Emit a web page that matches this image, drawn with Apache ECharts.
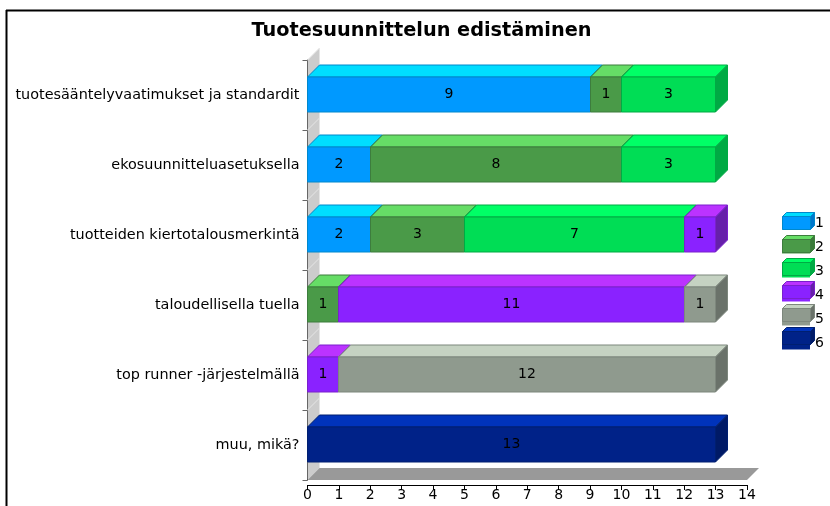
<!DOCTYPE html>
<html><head><meta charset="utf-8">
<style>html,body{margin:0;padding:0;background:#fff}#c{width:830px;height:506px}</style>
<script src="https://cdn.jsdelivr.net/npm/echarts@6/dist/echarts.min.js"></script>
</head><body><div id="c"></div>
<script>
const categories = ['tuotesääntelyvaatimukset ja standardit','ekosuunnitteluasetuksella','tuotteiden kiertotalousmerkintä','taloudellisella tuella','top runner -järjestelmällä','muu, mikä?'];
const seriesNames = ['1','2','3','4','5','6'];
const s1 = [9,2,2,0,0,0];
const s2 = [1,8,3,1,0,0];
const s3 = [3,3,7,0,0,0];
const s4 = [0,0,1,11,1,0];
const s5 = [0,0,0,1,12,0];
const s6 = [0,0,0,0,0,13];
const allSeries = [s1,s2,s3,s4,s5,s6];
const frontColors = ['#0099ff','#4a9a48','#00dd55','#8a22ff','#8f9a8e','#002288'];
const topColors = ['#00ddff','#66dd66','#00ff66','#bb33ff','#c5d2c2','#0033bb'];
const sideColors = ['#0077cc','#3a7a3a','#00aa44','#6620aa','#6a726a','#001a66'];
const edgeColors = ['#0088cc','#3d7d3d','#00aa44','#7a20cc','#7d877d','#001f70'];
const DEPTH = 12;
const FONT = '"DejaVu Sans"';

const chart = echarts.init(document.getElementById('c'));

function box(i, x0, x1, yc, band, text){
  const t = yc - band*0.257, b = yc + band*0.243;
  const edge = {stroke: edgeColors[i], lineWidth: 1};
  const kids = [
    {type:'polygon',shape:{points:[[x0,t],[x1,t],[x1+DEPTH,t-DEPTH],[x0+DEPTH,t-DEPTH]]},style:{fill:topColors[i],...edge}},
    {type:'polygon',shape:{points:[[x1,t],[x1+DEPTH,t-DEPTH],[x1+DEPTH,b-DEPTH],[x1,b]]},style:{fill:sideColors[i],...edge}},
    {type:'rect',shape:{x:x0,y:t,width:x1-x0,height:b-t},style:{fill:frontColors[i],...edge}},
    {type:'text',style:{text:text,x:(x0+x1)/2,y:(t+b)/2,align:'center',verticalAlign:'middle',fill:'#000',font:'14px '+FONT}}
  ];
  return {type:'group',children:kids};
}

const series = allSeries.map((vals,i)=>({
  name: seriesNames[i],
  type:'custom',
  coordinateSystem:'cartesian2d',
  color: frontColors[i],
  itemStyle:{color:frontColors[i]},
  z:5,
  encode:{x:[1,2],y:0},
  data: vals.map((v,k)=>{
    let start=0; for(let j=0;j<i;j++) start+=allSeries[j][k];
    return [k,start,start+v,v];
  }).filter(d=>d[3]>0),
  renderItem:(params,api)=>{
    const k=api.value(0);
    const p0=api.coord([api.value(1),k]);
    const p1=api.coord([api.value(2),k]);
    const band=api.size([0,1])[1];
    return box(i,Math.floor(p0[0])+0.5,Math.floor(p1[0])+0.5,p0[1],band,String(api.value(3)));
  }
}));

// back wall and floor, anchored to the axes
series.push({
  type:'custom',silent:true,z:1,coordinateSystem:'cartesian2d',
  data:[[0]],
  renderItem:(params,api)=>{
    const cs=params.coordSys;
    const l=cs.x,r=cs.x+cs.width,t=cs.y,b=cs.y+cs.height;
    const kids=[
      {type:'polygon',shape:{points:[[l,t],[l+DEPTH,t-DEPTH],[l+DEPTH,b-DEPTH],[l,b]]},style:{fill:'#cccccc'}},
      {type:'polygon',shape:{points:[[l,b],[l+DEPTH,b-DEPTH],[r+DEPTH,b-DEPTH],[r,b]]},style:{fill:'#999999'}}
    ];
    const step=cs.height/categories.length;
    for(let n=0;n<categories.length;n++){
      const y=t+step*n;
      kids.push({type:'line',shape:{x1:l,y1:y,x2:l+DEPTH,y2:y-DEPTH},style:{stroke:'#e6e6e6',lineWidth:1}});
    }
    return {type:'group',children:kids};
  }
});

const legendStep=23;
const legendGraphics=[];
seriesNames.forEach((n,i)=>{
  const y=216.5+legendStep*i;
  legendGraphics.push(
    {type:'polygon',z:200,shape:{points:[[782.5,y],[786.5,y-4],[814.5,y-4],[810.5,y]]},style:{fill:topColors[i],stroke:edgeColors[i]}},
    {type:'polygon',z:200,shape:{points:[[810.5,y],[814.5,y-4],[814.5,y+9],[810.5,y+13]]},style:{fill:sideColors[i],stroke:edgeColors[i]}},
    {type:'rect',z:200,shape:{x:782.5,y:y,width:28,height:13},style:{fill:frontColors[i],stroke:edgeColors[i]}}
  );
});

chart.setOption({
  animation:false,
  backgroundColor:'#fff',
  title:{text:'Tuotesuunnittelun edistäminen',left:416.5,top:16,textAlign:'center',
    textStyle:{fontFamily:FONT,fontWeight:'bold',fontSize:19.3,color:'#000'}},
  legend:{
    data:seriesNames,left:782,top:216,padding:0,orient:'vertical',itemWidth:28,itemHeight:13,itemGap:10,
    icon:'rect',selectedMode:false,
    textStyle:{fontFamily:FONT,fontSize:14,color:'#000',padding:0},
    formatter:n=>n
  },
  grid:{left:307.5,right:830-747,top:60,bottom:506-480,containLabel:false},
  xAxis:{type:'value',min:0,max:14,interval:1,offset:5,position:'bottom',
    axisLine:{show:true,lineStyle:{color:'#000'}},
    axisTick:{show:true,length:5,lineStyle:{color:'#000'}},
    axisLabel:{fontFamily:FONT,fontSize:14,color:'#000',margin:3},
    splitLine:{show:false}},
  yAxis:{type:'category',data:categories,inverse:true,
    axisLine:{show:true,lineStyle:{color:'#000',width:1}},
    axisTick:{show:true,length:5,alignWithLabel:false,lineStyle:{color:'#666'}},
    axisLabel:{fontFamily:FONT,fontSize:14.4,color:'#000',margin:8}},
  series,
  graphic:[
    {type:'line',silent:true,z:-1,shape:{x1:6,y1:10.5,x2:830,y2:10.5},style:{stroke:'#000',lineWidth:2}},
    {type:'line',silent:true,z:-1,shape:{x1:6.5,y1:10,x2:6.5,y2:506},style:{stroke:'#000',lineWidth:2}},
    ...legendGraphics
  ]
});
</script></body></html>
